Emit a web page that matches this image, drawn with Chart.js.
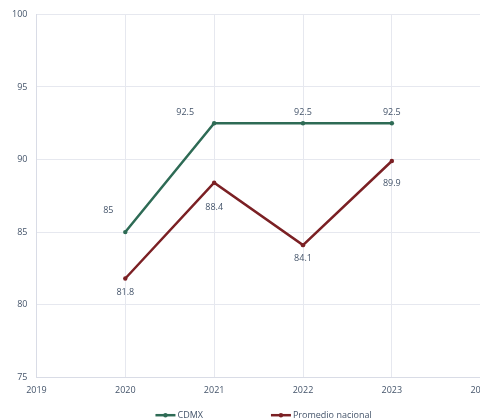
<!DOCTYPE html>
<html>
<head>
<meta charset="utf-8">
<script src="https://cdn.jsdelivr.net/npm/chart.js@4.4.0/dist/chart.umd.min.js"></script>
<style>
  html, body { margin: 0; padding: 0; background: #fff; overflow: hidden; }
  #wrap { width: 480px; height: 419px; overflow: hidden; }
</style>
</head>
<body>
<div id="wrap"><canvas id="chart" width="499" height="419"></canvas></div>
<script>
const years = [2020, 2021, 2022, 2023];
const cdmx = [85, 92.5, 92.5, 92.5];
const nacional = [81.8, 88.4, 84.1, 89.9];
const yTicks = [75, 80, 85, 90, 95, 100];

const textColor = "#44546a";
const gridColor = "#e6e8ef";
const green = "#2e6b55";
const red = "#7b2024";
const font = "'Open Sans'";

// etiquetas de datos
const valueLabels = {
  id: "valueLabels",
  afterDatasetsDraw(chart) {
    const ctx = chart.ctx;
    ctx.save();
    ctx.font = "9px " + font;
    ctx.fillStyle = textColor;
    ctx.textBaseline = "middle";
    ctx.textAlign = "center";
    chart.data.datasets.forEach((ds, i) => {
      const meta = chart.getDatasetMeta(i);
      meta.data.forEach((pt, j) => {
        const p = ds.labelPlace[j];
        ctx.fillText(String(ds.values[j]), pt.x + p[0], pt.y + p[1]);
      });
    });
    ctx.restore();
  }
};

// leyenda tipo Excel (linea con punto), centrada bajo el area del grafico
const excelLegend = {
  id: "excelLegend",
  afterDraw(chart) {
    const ctx = chart.ctx;
    const area = chart.chartArea;
    ctx.save();
    ctx.font = "9px " + font;
    ctx.textBaseline = "middle";
    const icon = 20, gapText = 2, gapItem = 68;
    const items = chart.data.datasets.map(ds => ({
      ds, w: icon + gapText + ctx.measureText(ds.label).width
    }));
    const total = items.reduce((s, it) => s + it.w, 0) + gapItem * (items.length - 1);
    let x = (area.left + area.right) / 2 + 5 - total / 2;
    const y = area.bottom + 38;
    items.forEach(it => {
      ctx.strokeStyle = it.ds.borderColor;
      ctx.lineWidth = 2.5;
      ctx.beginPath(); ctx.moveTo(x, y); ctx.lineTo(x + icon, y); ctx.stroke();
      ctx.fillStyle = it.ds.borderColor;
      ctx.beginPath(); ctx.arc(x + icon / 2, y, 2.2, 0, Math.PI * 2); ctx.fill();
      ctx.fillStyle = textColor;
      ctx.fillText(it.ds.label, x + icon + gapText, y);
      x += it.w + gapItem;
    });
    ctx.restore();
  }
};

const ctx = document.getElementById("chart").getContext("2d");
new Chart(ctx, {
  type: "line",
  data: {
    datasets: [{
      label: "CDMX",
      values: cdmx,
      data: years.map((y, i) => ({ x: y, y: cdmx[i] })),
      borderColor: green,
      backgroundColor: green,
      borderWidth: 2.5,
      pointRadius: 2.2,
      pointBorderWidth: 0,
      labelPlace: [[-17, -22], [-29, -11], [0, -11], [0, -11]]
    }, {
      label: "Promedio nacional",
      values: nacional,
      data: years.map((y, i) => ({ x: y, y: nacional[i] })),
      borderColor: red,
      backgroundColor: red,
      borderWidth: 2.5,
      pointRadius: 2.2,
      pointBorderWidth: 0,
      labelPlace: [[0, 14], [0, 25], [0, 13], [0, 22]]
    }]
  },
  options: {
    responsive: false,
    animation: false,
    layout: { padding: { top: 13, left: 3, right: 0, bottom: 15 } },
    plugins: {
      tooltip: { enabled: false },
      legend: { display: false }
    },
    scales: {
      x: {
        type: "linear",
        min: 2019,
        max: 2024,
        grid: { color: gridColor, drawTicks: false },
        border: { color: "#d9dce6" },
        ticks: {
          stepSize: 1,
          padding: 8,
          color: textColor,
          font: { family: font, size: 9 },
          callback: v => String(v)
        }
      },
      y: {
        min: 75,
        max: 100,
        afterBuildTicks: axis => { axis.ticks = yTicks.map(v => ({ value: v })); },
        grid: { color: gridColor, drawTicks: false },
        border: { color: "#d9dce6" },
        ticks: {
          padding: 9,
          color: textColor,
          font: { family: font, size: 9 }
        }
      }
    }
  },
  plugins: [valueLabels, excelLegend]
});
</script>
</body>
</html>
